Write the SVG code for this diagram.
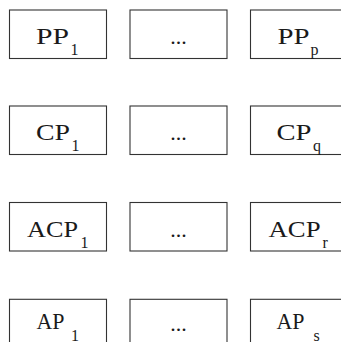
<svg xmlns="http://www.w3.org/2000/svg" width="341" height="342" viewBox="0 0 341 342">
  <style>
    .box { fill: #ffffff; stroke: #333333; stroke-width: 1.1; }
    .lbl { font-family: "Liberation Serif", "Times New Roman", serif; font-size: 23px; fill: #1a1a1a; }
    .sub { font-family: "Liberation Serif", "Times New Roman", serif; font-size: 16px; fill: #1a1a1a; }
    .dots { font-family: "Liberation Serif", "Times New Roman", serif; font-size: 22px; fill: #1a1a1a; text-anchor: middle; }
  </style>
  <rect width="341" height="342" fill="#ffffff"/>

  <!-- Row 1: PP -->
  <g id="pp1">
    <rect class="box" x="9.5" y="10" width="97" height="48.5"/>
    <text class="lbl" x="36" y="44" textLength="33" lengthAdjust="spacingAndGlyphs">PP</text>
    <text class="sub" x="70.5" y="55">1</text>
  </g>
  <g id="pp-more">
    <rect class="box" x="130" y="10" width="97" height="48.5"/>
    <text class="dots" x="178.5" y="44">...</text>
  </g>
  <g id="ppp">
    <rect class="box" x="250.5" y="10" width="97" height="48.5"/>
    <text class="lbl" x="277.5" y="44" textLength="32" lengthAdjust="spacingAndGlyphs">PP</text>
    <text class="sub" x="310.5" y="55">p</text>
  </g>

  <!-- Row 2: CP -->
  <g id="cp1">
    <rect class="box" x="9.5" y="106" width="97" height="48.5"/>
    <text class="lbl" x="36" y="140" textLength="34" lengthAdjust="spacingAndGlyphs">CP</text>
    <text class="sub" x="71.5" y="151">1</text>
  </g>
  <g id="cp-more">
    <rect class="box" x="130" y="106" width="97" height="48.5"/>
    <text class="dots" x="178.5" y="140">...</text>
  </g>
  <g id="cpq">
    <rect class="box" x="250.5" y="106" width="97" height="48.5"/>
    <text class="lbl" x="276.5" y="140" textLength="35" lengthAdjust="spacingAndGlyphs">CP</text>
    <text class="sub" x="313" y="151">q</text>
  </g>

  <!-- Row 3: ACP -->
  <g id="acp1">
    <rect class="box" x="9.5" y="202.5" width="97" height="48.5"/>
    <text class="lbl" x="27" y="236.7" textLength="51" lengthAdjust="spacingAndGlyphs">ACP</text>
    <text class="sub" x="80.5" y="248">1</text>
  </g>
  <g id="acp-more">
    <rect class="box" x="130" y="202.5" width="97" height="48.5"/>
    <text class="dots" x="178.5" y="236.7">...</text>
  </g>
  <g id="acpr">
    <rect class="box" x="250.5" y="202.5" width="97" height="48.5"/>
    <text class="lbl" x="268.5" y="236.7" textLength="52" lengthAdjust="spacingAndGlyphs">ACP</text>
    <text class="sub" x="322.5" y="248">r</text>
  </g>

  <!-- Row 4: AP (bottom row runs past the lower edge) -->
  <g id="ap1">
    <rect class="box" x="9.5" y="299.3" width="97" height="48.5"/>
    <text class="lbl" x="36.5" y="328.5" textLength="28" lengthAdjust="spacingAndGlyphs">AP</text>
    <text class="sub" x="71" y="341">1</text>
  </g>
  <g id="ap-more">
    <rect class="box" x="130" y="299.3" width="97" height="48.5"/>
    <text class="dots" x="178.5" y="331">...</text>
  </g>
  <g id="aps">
    <rect class="box" x="250.5" y="299.3" width="97" height="48.5"/>
    <text class="lbl" x="276.5" y="328.5" textLength="28" lengthAdjust="spacingAndGlyphs">AP</text>
    <text class="sub" x="313.5" y="341">s</text>
  </g>

  <!-- connectors: none drawn -->
  <g id="connectors"/>
</svg>
